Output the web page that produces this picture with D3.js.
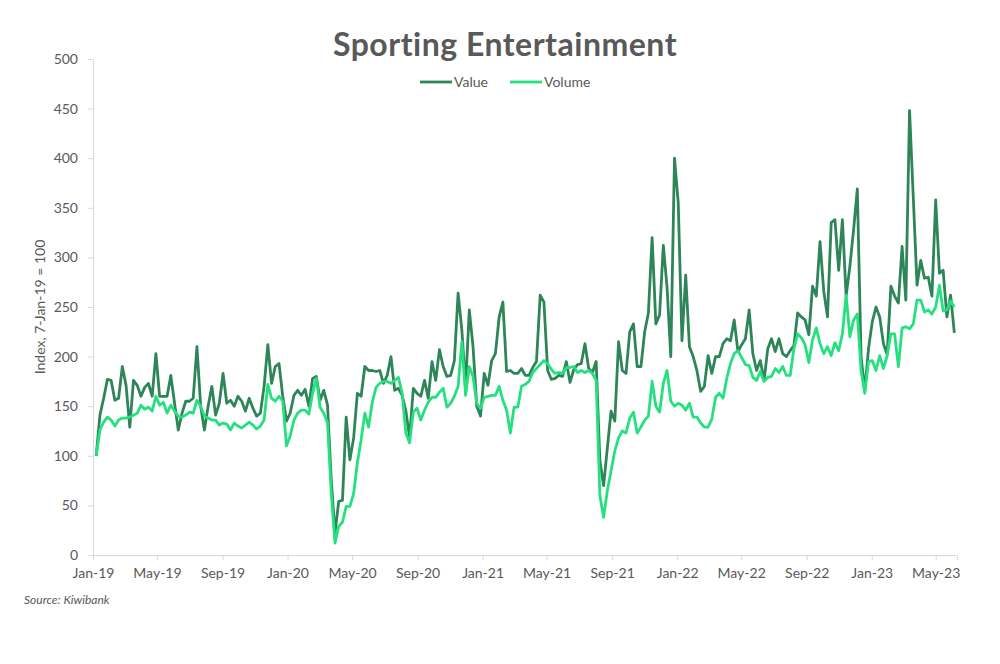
<!DOCTYPE html>
<html>
<head>
<meta charset="utf-8">
<script src="https://cdn.jsdelivr.net/npm/d3@7"></script>
<style>
  html, body { margin: 0; padding: 0; background: #ffffff; }
  svg { display: block; }
</style>
</head>
<body>
<svg id="chart" width="1000" height="664"></svg>
<script>
// ---- Data (weekly, index 7-Jan-19 = 100) ----
const startDate = "2019-01-07";
const seriesNames = ["Value", "Volume"];
const valueSeries = [
100,141,158,177,176,156,158,190,171,129,176,171,160,169,173,160,203,160,160,160,
181,153,126,143,155,155,158,210,150,126,150,170,141,153,183,153,156,150,160,155,
145,158,148,140,143,170,212,173,190,193,160,135,143,161,166,161,167,150,178,180,
156,166,151,76,22,54,55,139,96,118,163,160,190,186,186,185,186,173,181,200,
166,168,161,145,119,168,163,160,176,158,195,176,207,190,180,181,196,264,227,170,
247,210,150,140,183,171,196,203,240,255,185,186,183,183,188,181,181,189,195,262,
255,186,177,178,181,180,195,174,187,192,193,213,188,184,195,95,70,108,145,135,
215,186,183,225,233,190,190,225,244,320,233,242,312,270,200,400,355,216,282,210,
200,186,165,170,201,183,200,200,213,218,216,237,205,212,218,247,203,186,196,176,
208,218,205,218,203,200,206,211,244,240,237,222,271,261,316,266,240,335,338,287,
338,261,291,328,369,200,166,208,235,250,240,213,202,271,261,254,311,257,448,360,
272,297,279,280,261,358,284,287,240,262,224
];
const volumeSeries = [
100,126,134,139,136,130,136,138,138,139,141,143,151,147,149,145,160,151,154,143,
151,145,140,139,141,144,143,156,150,140,138,136,136,131,133,132,126,133,130,128,
131,134,131,127,130,136,172,158,155,160,155,110,120,136,143,146,146,142,163,178,
149,143,133,62,12,29,33,49,49,62,93,116,143,129,154,169,173,175,175,173,
176,179,163,123,113,144,148,136,146,154,159,159,164,168,149,153,160,170,215,161,
190,180,153,148,159,160,161,161,170,156,146,123,149,149,170,172,175,184,188,192,
196,193,187,183,184,183,189,189,190,184,186,184,186,183,176,60,38,65,85,105,
118,125,123,138,144,123,129,136,140,175,150,144,173,186,155,150,153,151,146,153,
139,139,133,129,129,137,159,163,158,178,193,203,206,199,192,191,179,176,185,175,
179,180,188,184,190,181,181,208,223,219,212,194,217,229,213,203,210,201,214,206,
223,262,220,237,243,186,163,195,196,186,201,188,201,223,223,190,229,230,228,233,
257,257,245,247,243,250,272,246,247,256,250
];
const yTicks = [0, 50, 100, 150, 200, 250, 300, 350, 400, 450, 500];
const xDomain = ["2019-01-01", "2023-06-10"];
const colors = { Value: "#2E8558", Volume: "#25E07F" };

// ---- Layout ----
const svg = d3.select("#chart");
const mLeft = 93, mRight = 957, mTop = 59, mBottom = 555;
const textColor = "#595959";
const axisColor = "#d9d9d9";
const font = "'Lato', 'Open Sans', sans-serif";

const parse = d3.timeParse("%Y-%m-%d");
const start = parse(startDate);
const dates = valueSeries.map((_, i) => d3.timeDay.offset(start, 7 * i));

const x = d3.scaleTime().domain(xDomain.map(parse)).range([mLeft, mRight]);
const y = d3.scaleLinear().domain([0, 500]).range([mBottom, mTop]);

// Title
svg.append("text")
  .attr("x", 505).attr("y", 56)
  .attr("text-anchor", "middle")
  .attr("font-family", font)
  .attr("font-weight", "700")
  .attr("font-size", 32)
  .attr("letter-spacing", 0.5)
  .attr("fill", textColor)
  .text("Sporting Entertainment");

// Legend
const legend = [
  { name: seriesNames[0], x1: 420, tx: 454 },
  { name: seriesNames[1], x1: 510, tx: 544 }
];
legend.forEach(l => {
  svg.append("line")
    .attr("x1", l.x1).attr("x2", l.x1 + 32)
    .attr("y1", 82).attr("y2", 82)
    .attr("stroke", colors[l.name]).attr("stroke-width", 2.8);
  svg.append("text")
    .attr("x", l.tx).attr("y", 87)
    .attr("font-family", font).attr("font-size", 14)
    .attr("fill", textColor)
    .text(l.name);
});

// Y axis
const yAxis = d3.axisLeft(y).tickValues(yTicks).tickSize(5).tickPadding(10);
const gy = svg.append("g").attr("transform", `translate(${mLeft},0)`).call(yAxis);
gy.select(".domain").attr("stroke", axisColor);
gy.selectAll(".tick line").attr("stroke", axisColor);
gy.selectAll(".tick text")
  .attr("font-family", font).attr("font-size", 14).attr("fill", textColor);

// X axis
const xAxis = d3.axisBottom(x)
  .ticks(d3.timeMonth.every(4))
  .tickFormat(d3.timeFormat("%b-%y"))
  .tickSize(5).tickPadding(8);
const gx = svg.append("g").attr("transform", `translate(0,${mBottom})`).call(xAxis);
gx.select(".domain").attr("stroke", axisColor);
gx.selectAll(".tick line").attr("stroke", axisColor);
gx.selectAll(".tick text")
  .attr("font-family", font).attr("font-size", 14).attr("fill", textColor);

// Y axis title
svg.append("text")
  .attr("transform", `translate(45,${(mTop + mBottom) / 2}) rotate(-90)`)
  .attr("text-anchor", "middle")
  .attr("font-family", font).attr("font-size", 14)
  .attr("fill", textColor)
  .text("Index, 7-Jan-19 = 100");

// Lines (Value first, Volume drawn on top as in the reference)
const line = d3.line().x((d, i) => x(dates[i])).y(d => y(d));
svg.append("path").datum(valueSeries)
  .attr("fill", "none").attr("stroke", colors.Value)
  .attr("stroke-width", 2.8).attr("stroke-linejoin", "round")
  .attr("d", line);
svg.append("path").datum(volumeSeries)
  .attr("fill", "none").attr("stroke", colors.Volume)
  .attr("stroke-width", 2.8).attr("stroke-linejoin", "round")
  .attr("d", line);

// Source
svg.append("text")
  .attr("x", 24).attr("y", 604)
  .attr("font-family", font).attr("font-size", 12)
  .attr("font-style", "italic")
  .attr("fill", textColor)
  .text("Source: Kiwibank");
</script>
</body>
</html>
